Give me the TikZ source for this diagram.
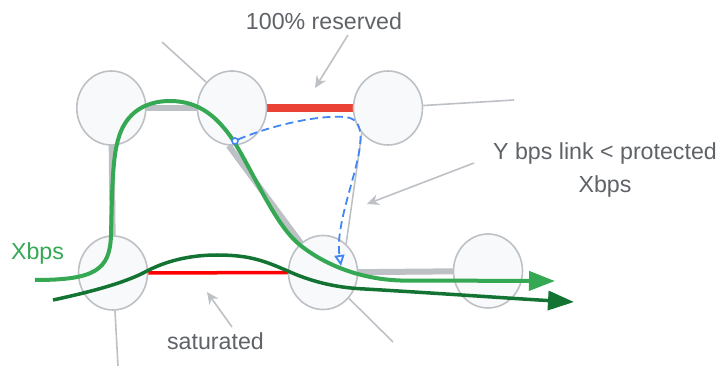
\documentclass[tikz,border=0pt]{standalone}
\usepackage{fontspec}
\setmainfont{Liberation Sans}
\usetikzlibrary{arrows.meta,shapes.geometric}
\definecolor{nodefill}{HTML}{F8F9FA}
\definecolor{nodeline}{HTML}{BDC1C6}
\definecolor{linkgrey}{HTML}{BDC1C6}
\definecolor{txtgrey}{HTML}{5F6368}
\definecolor{gred}{HTML}{EA4335}
\definecolor{lgreen}{HTML}{34A853}
\definecolor{dgreen}{HTML}{137333}
\definecolor{gblue}{HTML}{4285F4}
\tikzset{
  router/.style={ellipse, draw=nodeline, line width=1.6pt, fill=nodefill,
    minimum width=69pt, minimum height=74pt, inner sep=0pt},
  glink/.style={draw=linkgrey, line width=6pt},
  redthick/.style={draw=gred, line width=8pt},
  redthin/.style={draw=red, line width=3.5pt},
  stub/.style={draw=linkgrey, line width=1.6pt},
  note/.style={draw=linkgrey, line width=1.6pt, -{Stealth[length=12pt,width=11pt]}},
  lbl/.style={text=txtgrey, font=\fontsize{23.2}{27}\selectfont, inner sep=0pt, anchor=base},
  glbl/.style={text=lgreen, font=\fontsize{23.2}{27}\selectfont, inner sep=0pt, anchor=base},
  flowlight/.style={draw=lgreen, line width=4pt, -{Triangle[length=26pt,width=19pt]}},
  flowdark/.style={draw=dgreen, line width=3.5pt, -{Triangle[length=26pt,width=19pt]}},
  backup/.style={draw=gblue, line width=1.8pt, dash pattern=on 8pt off 4.5pt,
    -{Triangle[open,length=11pt,width=10pt]}}
}
\begin{document}
\begin{tikzpicture}[x=1pt,y=-1pt]
\useasboundingbox (0,0) rectangle (724,366);
% node positions
\coordinate (pA) at (111.3,108);
\coordinate (pB) at (232,108);
\coordinate (pC) at (388,108);
\coordinate (pD) at (113,273);
\coordinate (pE) at (323,272.5);
\coordinate (pF) at (488,271);
% links (behind nodes)
\draw[glink] (pA) -- (pB);
\draw[glink] (pA) -- (pD);
\draw[glink] (pE) -- (pF);
\draw[redthick] (pB) -- (pC);
\draw[redthin] (pD) -- (pE);
% nodes
\node[router] (A) at (pA) {};
\node[router] (B) at (pB) {};
\node[router] (C) at (pC) {};
\node[router] (D) at (pD) {};
\node[router] (E) at (pE) {};
\node[router] (F) at (pF) {};
% diagonal link B-E
\draw[glink] (B.-95) -- (E.127);
% stubs
\coordinate (sB) at (162,42);
\coordinate (sC) at (514,100);
\coordinate (sD) at (118,366);
\coordinate (sE) at (393,342);
\draw[stub] (B.135) -- (sB);
\draw[stub] (C.4) -- (sC);
\draw[stub] (C.224) -- (E.51);
\draw[stub] (D.-87) -- (sD);
\draw[stub] (E.-45) -- (sE);
% labels
\node[lbl] (t1) at (324,29.3) {100\% reserved};
\node[lbl] (t2) at (605,159.3) {Y bps link < protected};
\node[lbl] (t3) at (605,192.5) {Xbps};
\node[lbl] (t4) at (215.5,350) {saturated};
\node[glbl] (t5) at (37.5,259.7) {Xbps};
% annotation arrows
\coordinate (a1s) at (348,35);
\coordinate (a1e) at (315,88);
\coordinate (a2s) at (474,163);
\coordinate (a2e) at (367,204);
\coordinate (a3s) at (232,327);
\coordinate (a3e) at (207,292);
\draw[note] (a1s) -- (a1e);
\draw[note] (a2s) -- (a2e);
\draw[note] (a3s) -- (a3e);
% flows
\coordinate (g0) at (35,280);
\coordinate (g1) at (555,281);
\draw[flowlight] (g0) .. controls (95,280) and (110,270) .. (111,235)
  .. controls (112,200) and (112,160) .. (118,140)
  .. controls (125,113) and (145,101) .. (170,101)
  .. controls (200,101) and (218,118) .. (233,140)
  .. controls (255,175) and (275,225) .. (300,245)
  .. controls (325,265) and (360,279) .. (400,280.5)
  -- (g1);
\coordinate (d0) at (53,300);
\coordinate (d1) at (574,302);
\draw[flowdark] (d0) .. controls (90,292) and (125,283) .. (147,271)
  .. controls (170,259) and (195,255) .. (217,255)
  .. controls (250,255) and (265,261) .. (290,272)
  .. controls (315,283) and (340,288) .. (365,289)
  .. controls (450,294) and (520,299) .. (d1);
\coordinate (b0) at (235,141);
\coordinate (b1) at (341,266);
\draw[gblue, line width=1.6pt, fill=white] (b0) circle (3);
\draw[backup] (238,139.5) .. controls (275,124) and (320,115) .. (345,117)
  .. controls (358,118) and (362,128) .. (360,145)
  .. controls (357,175) and (335,225) .. (b1);
\end{tikzpicture}
\end{document}
